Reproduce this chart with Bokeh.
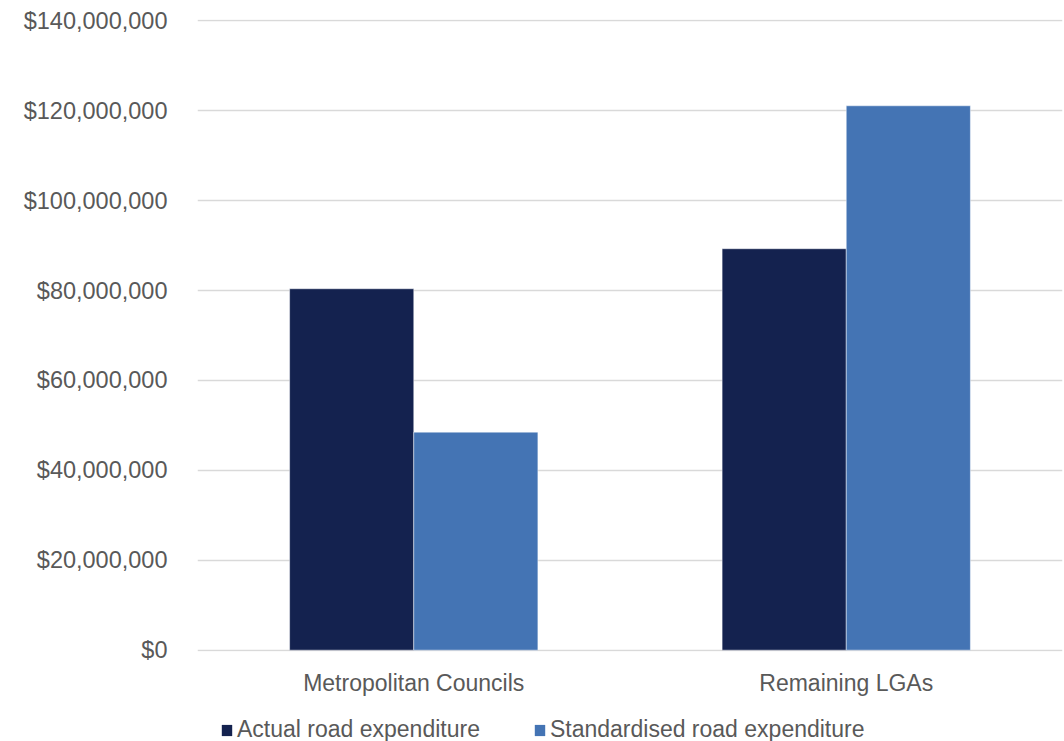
from bokeh.plotting import figure
from bokeh.layouts import column
from bokeh.models import (ColumnDataSource, FactorRange, Range1d, Legend, LegendItem,
                          NumeralTickFormatter, FixedTicker)
from bokeh.transform import dodge
from bokeh.embed import file_html
from bokeh.resources import INLINE

# Road expenditure by council group
categories = ["Metropolitan Councils", "Remaining LGAs"]
actual = [80_400_000, 89_300_000]
standardised = [48_500_000, 121_100_000]
series_names = ["Actual road expenditure", "Standardised road expenditure"]
y_ticks = [0, 20_000_000, 40_000_000, 60_000_000, 80_000_000, 100_000_000, 120_000_000, 140_000_000]

NAVY = "#14224F"
BLUE = "#4474B4"
TEXT = "#595959"
FONT = "Liberation Sans"

src = ColumnDataSource(dict(cat=categories, actual=actual, standardised=standardised))

p = figure(
    width=1064, height=705,
    x_range=FactorRange(*categories, range_padding=0),
    # a little headroom so the end gridlines are not clipped by the frame
    y_range=Range1d(-300_000, 140_300_000),
    output_backend="svg", toolbar_location=None,
    min_border_left=197, min_border_right=2, min_border_top=19, min_border_bottom=54,
)
p.outline_line_color = None
p.background_fill_color = "white"
p.border_fill_color = "white"

bw = 0.287
p.vbar(x=dodge("cat", -bw / 2, range=p.x_range), top="actual", width=bw, source=src,
       fill_color=NAVY, line_color="white", line_alpha=0.45, line_width=1)
p.vbar(x=dodge("cat", bw / 2, range=p.x_range), top="standardised", width=bw, source=src,
       fill_color=BLUE, line_color="white", line_alpha=0.45, line_width=1)

# axes
p.yaxis.ticker = FixedTicker(ticks=y_ticks)
p.yaxis.formatter = NumeralTickFormatter(format="$0,0")
p.yaxis.axis_line_color = None
p.yaxis.major_tick_line_color = None
p.yaxis.minor_tick_line_color = None
p.yaxis.major_label_standoff = 24
p.yaxis.major_label_text_font = FONT
p.yaxis.major_label_text_font_size = "23.5px"
p.yaxis.major_label_text_color = TEXT

p.xaxis.axis_line_color = None
p.xaxis.major_tick_line_color = None
p.xaxis.minor_tick_line_color = None
p.xaxis.major_label_standoff = 12
p.xaxis.major_label_text_font = FONT
p.xaxis.major_label_text_font_size = "23px"
p.xaxis.major_label_text_color = TEXT

p.xgrid.grid_line_color = None
p.ygrid.grid_line_color = "#D9D9D9"
p.ygrid.grid_line_width = 1.3

# legend strip beneath the chart (its frame lines up with the chart's frame)
leg = figure(
    width=1064, height=36, x_range=(0, 1), y_range=(0, 1),
    x_axis_type=None, y_axis_type=None,
    output_backend="svg", toolbar_location=None,
    min_border=0, outline_line_color=None,
)
leg.grid.visible = False
# key swatches: one bar each, kept well outside the visible range
k1 = leg.vbar(x=[-5], bottom=[-10], top=[-5], width=0.1, fill_color=NAVY, line_color=None)
k2 = leg.vbar(x=[-5], bottom=[-10], top=[-5], width=0.1, fill_color=BLUE, line_color=None)
legend = Legend(
    items=[LegendItem(label=series_names[0], renderers=[k1]),
           LegendItem(label=series_names[1], renderers=[k2])],
    orientation="horizontal",
    location=(23, -2),
    label_text_font=FONT, label_text_font_size="23px", label_text_color=TEXT,
    glyph_width=13, glyph_height=14, label_standoff=4, spacing=53,
    padding=0, margin=0, border_line_color=None, background_fill_alpha=0,
)
leg.add_layout(legend, "center")

layout = column(p, leg, spacing=0)
open("out.html", "w").write(file_html(layout, INLINE))
